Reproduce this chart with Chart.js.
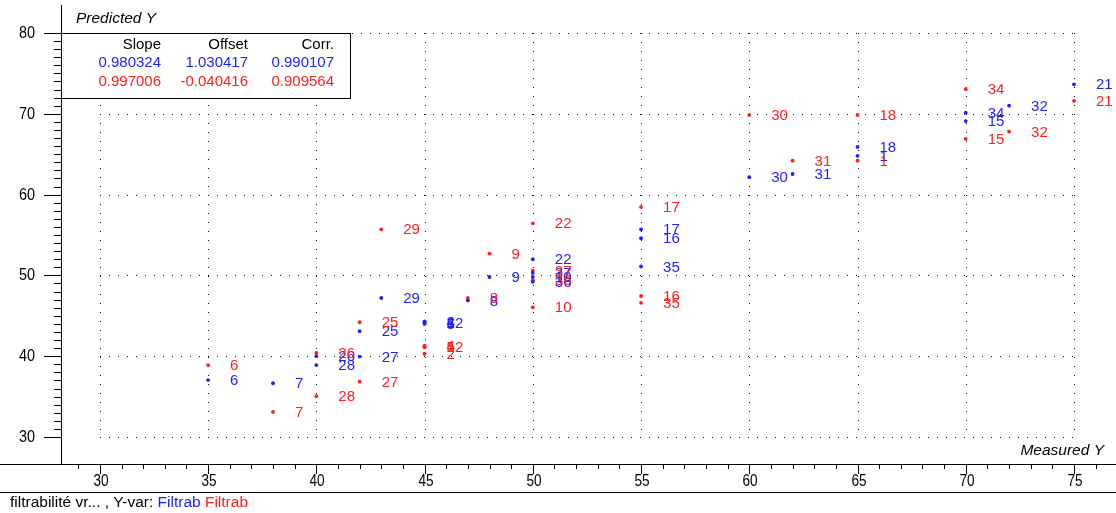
<!DOCTYPE html>
<html>
<head>
<meta charset="utf-8">
<script src="https://cdn.jsdelivr.net/npm/chart.js@4/dist/chart.umd.min.js"></script>
<style>
  html, body { margin: 0; padding: 0; background: #fff; overflow: hidden; }
  #wrap { width: 1116px; height: 513px; position: relative; }
</style>
</head>
<body>
<div id="wrap"><canvas id="c" width="1116" height="513"></canvas></div>
<script>
// Sample numbers, measured and predicted values — first Filtrab model (blue)
const blueIds       = ['6', '7', '28', '26', '25', '27', '29', '4', '5', '12', '2', '8', '9', '22', '37', '10', '36', '17', '16', '35', '30', '31', '18', '1', '34', '15', '32', '21'];
const blueMeasured  = [35, 38, 40, 40, 42, 42, 43, 45, 45, 45, 45, 47, 48, 50, 50, 50, 50, 55, 55, 55, 60, 62, 65, 65, 70, 70, 72, 75];
const bluePredicted = [37.05, 36.65, 38.9, 40.0, 43.1, 39.95, 47.2, 44.2, 44.0, 44.1, 44.3, 46.9, 49.8, 52.0, 50.3, 49.8, 49.2, 55.7, 54.6, 51.1, 62.15, 62.55, 65.9, 64.8, 70.15, 69.1, 71.0, 73.65];

// Second Filtrab model (red)
const redIds        = ['6', '7', '28', '26', '25', '27', '29', '4', '5', '12', '2', '8', '9', '22', '37', '36', '10', '17', '16', '35', '30', '31', '18', '1', '34', '15', '32', '21'];
const redMeasured   = [35, 38, 40, 40, 42, 42, 43, 45, 45, 45, 45, 47, 48, 50, 50, 50, 50, 55, 55, 55, 60, 62, 65, 65, 70, 70, 72, 75];
const redPredicted  = [38.9, 33.1, 35.05, 40.4, 44.2, 36.85, 55.7, 41.3, 41.1, 41.2, 40.3, 47.2, 52.7, 56.45, 50.6, 49.4, 46.05, 58.45, 47.45, 46.6, 69.85, 64.2, 69.85, 64.2, 73.05, 66.9, 67.8, 71.6];

// Axis tick labels
const xTickLabels = [30, 35, 40, 45, 50, 55, 60, 65, 70, 75];
const yTickLabels = [30, 40, 50, 60, 70, 80];

// Regression statistics table
const statHeaders = ['Slope', 'Offset', 'Corr.'];
const blueStats   = ['0.980324', '1.030417', '0.990107'];
const redStats    = ['0.997006', '-0.040416', '0.909564'];

const BLUE = 'rgb(30,30,255)';
const RED  = 'rgb(255,30,30)';
const TXT  = '"Liberation Sans", Arial, sans-serif';

function pts(xs, ys) { return xs.map((x, i) => ({ x: x, y: ys[i] })); }

// narrow tick text, slightly condensed horizontally
function narrowText(ctx, text, x, y, align, sx) {
  ctx.save();
  ctx.translate(x, y);
  ctx.scale(sx, 1);
  ctx.textAlign = align;
  ctx.fillText(text, 0, 0);
  ctx.restore();
}

const frame = {
  id: 'frame',
  beforeDatasetsDraw(chart) {
    const ctx = chart.ctx;
    const xs = chart.scales.x, ys = chart.scales.y;
    const X = v => Math.round(xs.getPixelForValue(v));
    const Y = v => Math.round(ys.getPixelForValue(v));
    const W = chart.width;
    const axisX = Math.round(chart.chartArea.left);
    const axisY = Math.round(chart.chartArea.bottom);
    ctx.save();

    // dotted grid
    ctx.fillStyle = '#101010';
    const xFirst = xTickLabels[0], xLast = xTickLabels[xTickLabels.length - 1];
    const yFirst = yTickLabels[0], yLast = yTickLabels[yTickLabels.length - 1];
    for (const v of xTickLabels) {
      const px = X(v);
      for (let py = Y(yLast); py <= Y(yFirst); py += 9) ctx.fillRect(px, py, 1, 1);
    }
    for (const v of yTickLabels) {
      const py = Y(v);
      for (let px = X(xFirst); px <= X(xLast); px += 9) ctx.fillRect(px, py, 1, 1);
    }

    // axes lines
    ctx.fillStyle = '#000';
    ctx.fillRect(axisX, chart.chartArea.top, 1, axisY - chart.chartArea.top);
    ctx.fillRect(0, axisY, W, 1);
    ctx.fillRect(0, axisY + 28, W, 1);

    // y ticks
    for (let v = yFirst; v <= yLast; v++) {
      const py = Y(v);
      const major = yTickLabels.includes(v);
      const len = major ? 17 : 7;
      ctx.fillRect(axisX - len, py, len, 1);
    }
    // x ticks
    for (let v = 29; v <= 76; v++) {
      const px = X(v);
      const major = xTickLabels.includes(v);
      ctx.fillRect(px, axisY, 1, major ? 10 : 5);
    }

    // tick labels
    ctx.font = '16px ' + TXT;
    ctx.fillStyle = '#000';
    ctx.textBaseline = 'middle';
    for (const v of yTickLabels) narrowText(ctx, String(v), 35, Y(v) + 1, 'right', 0.9);
    for (const v of xTickLabels) narrowText(ctx, String(v), X(v) + 1, axisY + 18, 'center', 0.85);

    // axis titles
    ctx.font = 'italic 15.5px ' + TXT;
    ctx.textAlign = 'left';
    ctx.fillText('Predicted Y', 76, 19);
    ctx.textAlign = 'right';
    ctx.fillText('Measured Y', 1104, 451);

    // footer line
    ctx.font = '15.5px ' + TXT;
    ctx.textAlign = 'left';
    let fx = 10;
    const parts = [['filtrabilité vr... , Y-var: ', '#000'], ['Filtrab', BLUE], [' Filtrab', RED]];
    for (const [t, c] of parts) {
      ctx.fillStyle = c;
      ctx.fillText(t, fx, 503);
      fx += ctx.measureText(t).width;
    }

    // statistics box
    const bx = axisX, by = Y(yLast), bw = 289, bh = 65;
    ctx.fillStyle = '#fff';
    ctx.fillRect(bx, by, bw, bh);
    ctx.strokeStyle = '#000';
    ctx.lineWidth = 1;
    ctx.strokeRect(bx + 0.5, by + 0.5, bw, bh);
    ctx.font = '15px ' + TXT;
    ctx.textAlign = 'right';
    const cols = [161, 248, 334];
    const rows = [[statHeaders, '#000', 45], [blueStats, BLUE, 63], [redStats, RED, 82]];
    for (const [vals, col, ry] of rows) {
      ctx.fillStyle = col;
      vals.forEach((t, i) => ctx.fillText(t, cols[i], ry));
    }
    ctx.restore();
  },
  afterDatasetsDraw(chart) {
    const ctx = chart.ctx;
    ctx.save();
    ctx.font = '15px ' + TXT;
    ctx.textBaseline = 'middle';
    ctx.textAlign = 'left';
    chart.data.datasets.forEach((ds, di) => {
      const meta = chart.getDatasetMeta(di);
      ctx.fillStyle = ds.backgroundColor;
      meta.data.forEach((el, i) => {
        ctx.fillText(ds.ids[i], el.x + 22, el.y + 1);
      });
    });
    ctx.restore();
  }
};

new Chart(document.getElementById('c'), {
  type: 'scatter',
  data: {
    datasets: [
      { label: 'Filtrab', ids: blueIds, data: pts(blueMeasured, bluePredicted),
        backgroundColor: BLUE, borderColor: BLUE, pointRadius: 1.9, borderWidth: 0, pointStyle: 'circle' },
      { label: 'Filtrab', ids: redIds, data: pts(redMeasured, redPredicted),
        backgroundColor: RED, borderColor: RED, pointRadius: 1.9, borderWidth: 0, pointStyle: 'circle' }
    ]
  },
  options: {
    responsive: false,
    animation: false,
    devicePixelRatio: 1,
    layout: { padding: { left: 61, top: 5, right: 0, bottom: 49 } },
    plugins: { legend: { display: false }, tooltip: { enabled: false } },
    scales: {
      x: { type: 'linear', min: 28.205, max: 76.756, display: false },
      y: { type: 'linear', min: 26.658, max: 83.465, display: false }
    }
  },
  plugins: [frame]
});
</script>
</body>
</html>
